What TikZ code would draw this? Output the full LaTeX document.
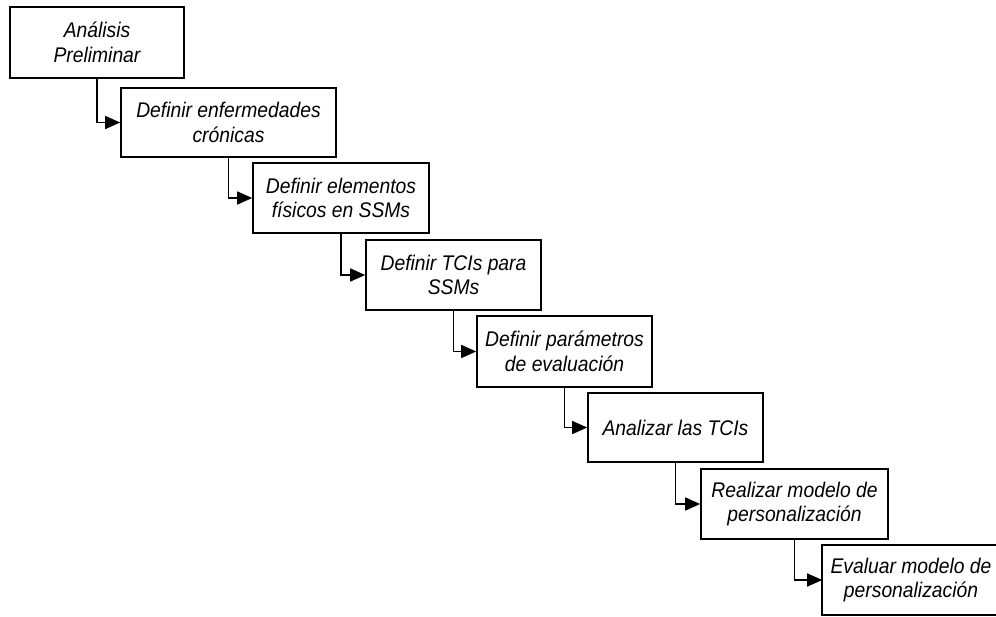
\documentclass[tikz,border=0pt]{standalone}
\usepackage{fontspec}
\setmainfont[FakeStretch=0.91]{Liberation Sans}
\usetikzlibrary{arrows.meta}
\begin{document}
\begin{tikzpicture}[x=1pt,y=-1pt,
  stepbox/.style={draw=black, line width=1.6pt, fill=white, inner sep=0pt,
    align=center, font=\fontsize{21.2}{24.5}\selectfont\itshape},
  conn/.style={line width=1.5pt, -{Triangle[length=15pt,width=13pt]}}]
\useasboundingbox (0,0) rectangle (996,616);
\node[stepbox, minimum width=174pt, minimum height=71pt] (b1) at (97,42.5) {Análisis\\Preliminar};
\node[stepbox, minimum width=215pt, minimum height=69pt] (b2) at (228.5,122.5) {Definir enfermedades\\crónicas};
\node[stepbox, minimum width=176pt, minimum height=70pt] (b3) at (341,198) {Definir elementos\\físicos en SSMs};
\node[stepbox, minimum width=175pt, minimum height=70pt] (b4) at (453.5,275) {Definir TCIs para\\SSMs};
\node[stepbox, minimum width=175pt, minimum height=71pt] (b5) at (564.5,351.5) {Definir parámetros\\de evaluación};
\node[stepbox, minimum width=175pt, minimum height=69pt] (b6) at (675.5,427.5) {Analizar las TCIs};
\node[stepbox, minimum width=187pt, minimum height=70pt] (b7) at (794.5,504) {Realizar modelo de\\personalización};
\node[stepbox, draw=none, fill=none, minimum width=176pt, minimum height=68pt] (b8) at (911,580) {Evaluar modelo de\\personalización};
\draw[line width=1.6pt] (b8.south west) rectangle ([xshift=20pt]b8.north east);
\draw[conn] (b1.south) |- (b2.west);
\draw[conn] (b2.south) |- (b3.west);
\draw[conn] (b3.south) |- (b4.west);
\draw[conn] (b4.south) |- (b5.west);
\draw[conn] (b5.south) |- (b6.west);
\draw[conn] (b6.south) |- (b7.west);
\draw[conn] (b7.south) |- (b8.west);
\end{tikzpicture}
\end{document}
